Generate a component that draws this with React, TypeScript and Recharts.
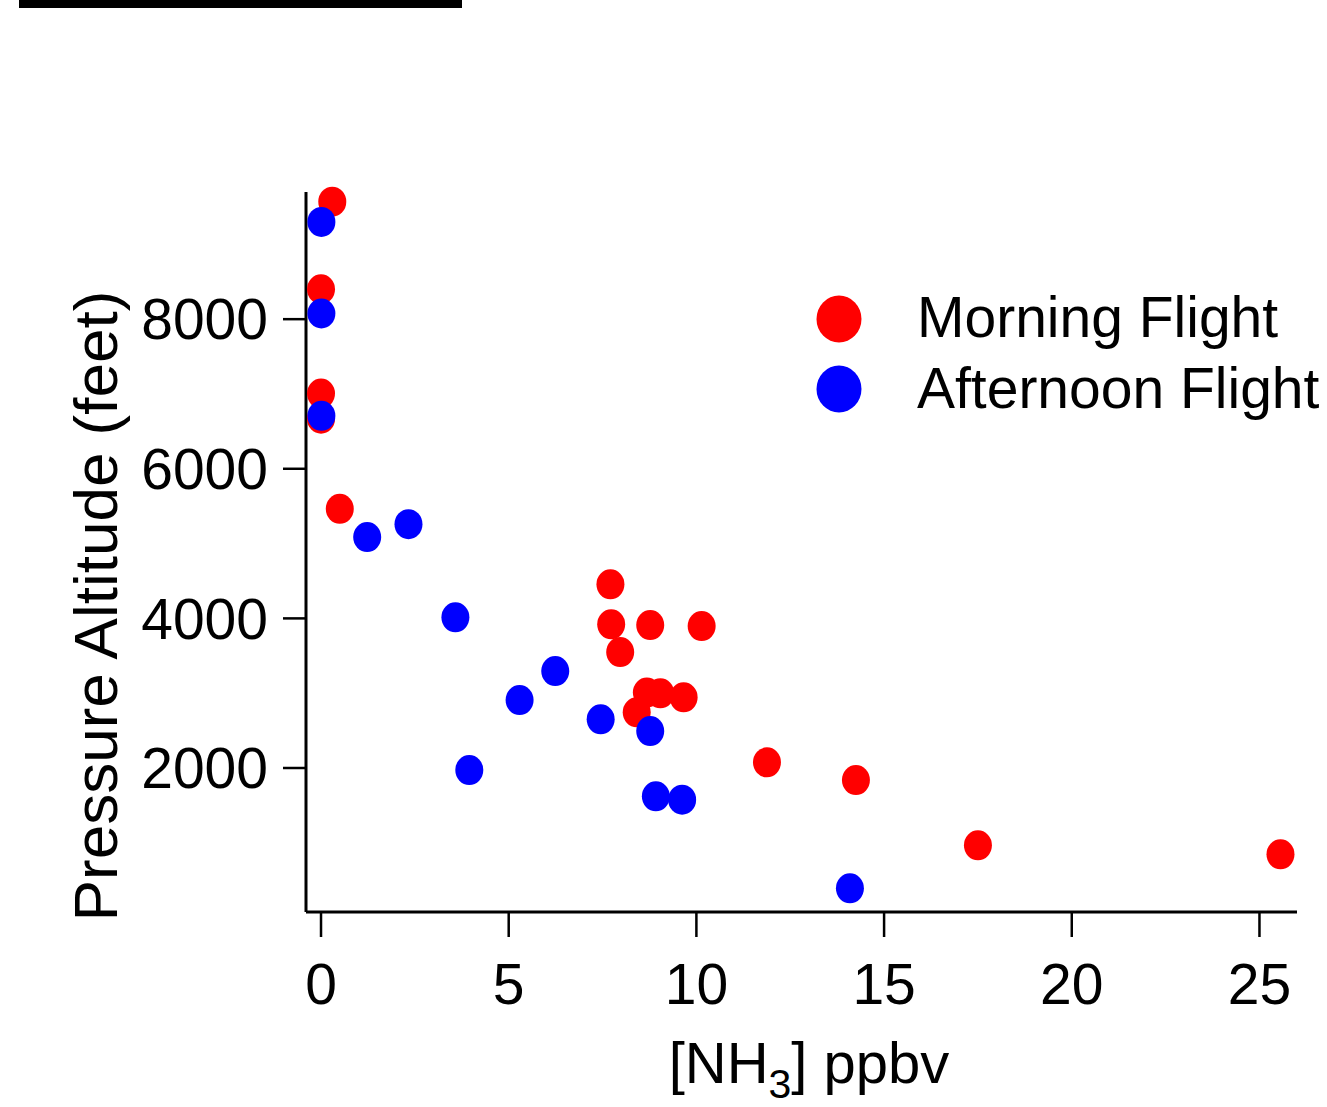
import { ScatterChart, Scatter, XAxis, YAxis, Legend } from 'recharts';

// NH3 mixing ratio (ppbv) vs pressure altitude (feet)
const morningNH3 = [0.3, 0, 0, 0, 0.5, 7.71, 7.73, 8.77, 10.14, 7.97, 8.68, 9.04, 9.66, 8.41, 11.88, 14.25, 17.5, 25.56];
const morningAlt = [9570, 8400, 7005, 6670, 5465, 4455, 3920, 3911, 3897, 3550, 3008, 2998, 2945, 2744, 2076, 1839, 966, 846];

const afternoonNH3 = [0.01, 0.01, 0.01, 1.23, 2.33, 3.58, 3.95, 5.29, 6.24, 7.45, 8.77, 8.92, 9.62, 14.09];
const afternoonAlt = [9300, 8076, 6708, 5087, 5260, 4014, 1973, 2908, 3296, 2651, 2494, 1622, 1576, 392];

const xTicks = [0, 5, 10, 15, 20, 25];
const yTicks = [2000, 4000, 6000, 8000];

const FONT = '"Liberation Sans", Arial, Helvetica, sans-serif';
const RED = '#ff0000';
const BLUE = '#0000ff';

const series = [
    { name: 'Morning Flight', color: RED, data: morningNH3.map((x, i) => ({ x, y: morningAlt[i] })) },
    { name: 'Afternoon Flight', color: BLUE, data: afternoonNH3.map((x, i) => ({ x, y: afternoonAlt[i] })) },
];

function dot(color: string) {
    return (p: any) => <ellipse cx={p.cx} cy={p.cy} rx={14} ry={15} fill={color} />;
}

function XTitle() {
    return (
        <text x={809} y={1083} textAnchor="middle" fontFamily={FONT} fontSize={58} fill="#000">
            <tspan>[NH</tspan>
            <tspan fontSize={41} dy={15}>3</tspan>
            <tspan dy={-15}>] ppbv</tspan>
        </text>
    );
}

function YTitle() {
    return (
        <text x={117} y={606} transform="rotate(-90 117 606)" textAnchor="middle"
            fontFamily={FONT} fontSize={62} fill="#000">
            Pressure Altitude (feet)
        </text>
    );
}

function FlightLegend() {
    return (
        <svg width={517} height={150} style={{ display: 'block' }}>
            {series.map((s, i) => (
                <g key={s.name}>
                    <ellipse cx={29} cy={39 + i * 70} rx={22.5} ry={23.5} fill={s.color} />
                    <text x={107} y={57 + i * 71} fontFamily={FONT} fontSize={57} fill="#000">{s.name}</text>
                </g>
            ))}
        </svg>
    );
}

export default function App() {
    return (
        <div style={{ position: 'absolute', left: 0, top: 0, width: 1327, height: 1107, background: '#fff' }}>
            {/* black bar at the top edge */}
            <div style={{ position: 'absolute', left: 19, top: 0, width: 443, height: 8, background: '#000' }} />
            <ScatterChart width={1327} height={1107} margin={{ top: 192, right: 30, bottom: 0, left: 106 }}>
                <XAxis
                    type="number"
                    dataKey="x"
                    domain={[-0.4, 26]}
                    ticks={xTicks}
                    interval={0}
                    height={195}
                    tickSize={25}
                    tickMargin={27}
                    tick={{ fontSize: 57, fill: '#000', fontFamily: FONT }}
                    tickLine={{ stroke: '#000', strokeWidth: 2.5 }}
                    axisLine={{ stroke: '#000', strokeWidth: 3 }}
                    label={<XTitle />}
                />
                <YAxis
                    type="number"
                    dataKey="y"
                    domain={[75, 9700]}
                    ticks={yTicks}
                    interval={0}
                    width={200}
                    tickSize={23}
                    tickMargin={15}
                    tick={{ fontSize: 57, fill: '#000', fontFamily: FONT }}
                    tickLine={{ stroke: '#000', strokeWidth: 2.5 }}
                    axisLine={{ stroke: '#000', strokeWidth: 3 }}
                    label={<YTitle />}
                />
                <Legend
                    layout="horizontal"
                    verticalAlign="middle"
                    align="center"
                    content={() => <FlightLegend />}
                    wrapperStyle={{ position: 'absolute', left: 810, top: 280, width: 517, height: 150 }}
                />
                {series.map(s => (
                    <Scatter
                        key={s.name}
                        name={s.name}
                        data={s.data}
                        fill={s.color}
                        shape={dot(s.color)}
                        isAnimationActive={false}
                    />
                ))}
            </ScatterChart>
        </div>
    );
}
